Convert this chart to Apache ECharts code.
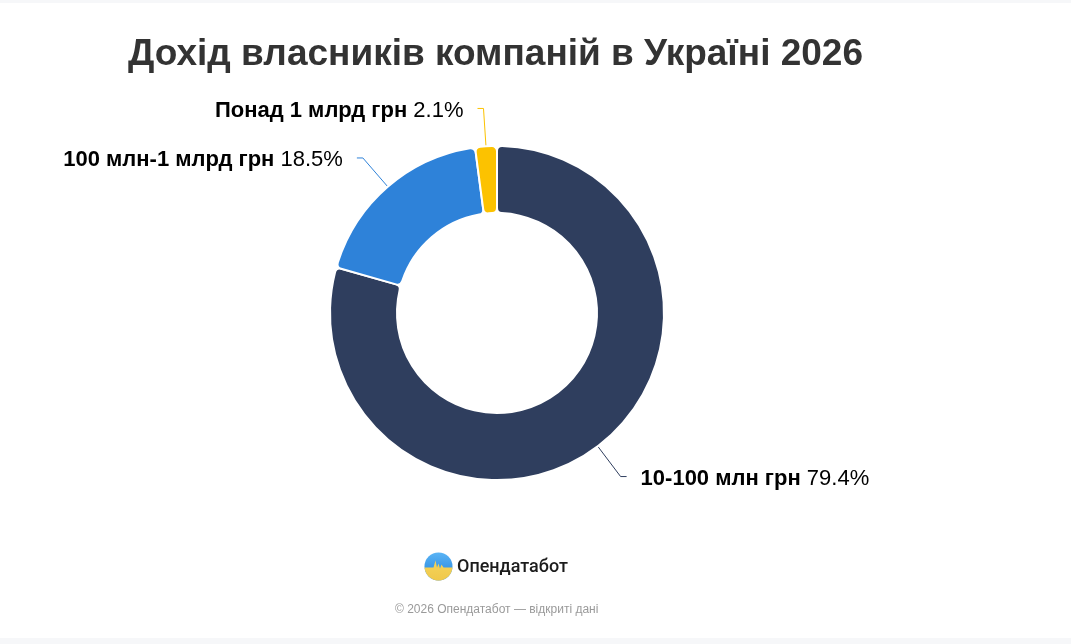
<!DOCTYPE html>
<html>
<head>
<meta charset="utf-8">
<script src="https://cdn.jsdelivr.net/npm/echarts@6/dist/echarts.min.js"></script>
<style>
html,body{margin:0;padding:0;background:#f6f7f9;}
#chart{width:1071px;height:644px;}
</style>
</head>
<body>
<div id="chart"></div>
<script>
const titleText = 'Дохід власників компаній в Україні 2026';
const categories = ['10-100 млн грн', '100 млн-1 млрд грн', 'Понад 1 млрд грн'];
const values = [79.4, 18.5, 2.1];
const colors = ['#2f3e5e', '#2e82d9', '#fcc200'];
const brandName = 'Опендатабот';
const footerText = '© 2026 Опендатабот — відкриті дані';

const chart = echarts.init(document.getElementById('chart'));

// logo yellow area (lower half of circle with heartbeat spike)
const cx = 438.5, cy = 566.5, r = 14;
const yellowPts = [];
for (let i = 0; i <= 24; i++) {
  const a = Math.PI * i / 24;
  yellowPts.push([cx + r * Math.cos(a), cy + r * Math.sin(a)]);
}
yellowPts.push([cx - r, cy + 1]);
yellowPts.push([cx - 5, cy + 1]);
yellowPts.push([cx - 3, cy - 6]);
yellowPts.push([cx - 1.5, cy + 1]);
yellowPts.push([cx, cy - 3]);
yellowPts.push([cx + 1.5, cy + 2]);
yellowPts.push([cx + 3, cy - 2]);
yellowPts.push([cx + 5, cy + 1]);
yellowPts.push([cx + r, cy + 1]);

chart.setOption({
  backgroundColor: '#f6f7f9',
  animation: false,
  title: {
    text: titleText,
    left: 123,
    top: 31,
    textStyle: {
      fontFamily: 'Liberation Sans, Arial, sans-serif',
      fontSize: 37,
      fontWeight: 'bold',
      color: '#333333'
    }
  },
  graphic: [
    { type: 'rect', z: -10, shape: { x: 0, y: 3, width: 1071, height: 635 }, style: { fill: '#ffffff' }, silent: true },
    { type: 'circle', z: 10, shape: { cx: cx, cy: cy, r: r },
      style: { fill: new echarts.graphic.LinearGradient(0, 0, 0, 1, [{ offset: 0, color: '#5ab4f5' }, { offset: 0.5, color: '#3d9ae8' }, { offset: 1, color: '#3d9ae8' }]) } },
    { type: 'polygon', z: 11, shape: { points: yellowPts },
      style: { fill: new echarts.graphic.LinearGradient(0, 0, 0, 1, [{ offset: 0, color: '#f5d45a' }, { offset: 1, color: '#f0c84a' }]) } },
    { type: 'text', z: 10, left: 457, top: 558,
      style: { text: brandName, fontFamily: 'Roboto, sans-serif', fontSize: 18, fontWeight: 500, fill: '#1c1c1c' } },
    { type: 'text', z: 10, left: 395, top: 604,
      style: { text: footerText, fontFamily: 'Liberation Sans, Arial, sans-serif', fontSize: 12, fill: '#9a9a9a' } }
  ],
  series: [{
    type: 'pie',
    center: [497, 313],
    radius: [100, 167],
    startAngle: 90,
    clockwise: true,
    itemStyle: { borderColor: '#ffffff', borderWidth: 2, borderRadius: 5 },
    label: {
      show: true,
      position: 'outside',
      distanceToLabelLine: 14,
      padding: [4, 0, 0, 0],
      formatter: function (p) { return '{b|' + p.name + '}{v| ' + p.value + '%}'; },
      rich: {
        b: { fontFamily: 'Liberation Sans, Arial, sans-serif', fontSize: 22, fontWeight: 'bold', color: '#000000' },
        v: { fontFamily: 'Liberation Sans, Arial, sans-serif', fontSize: 22, color: '#000000' }
      }
    },
    labelLine: { show: true, length: 38, length2: 6, lineStyle: { width: 1 } },
    data: categories.map((c, i) => ({ name: c, value: values[i], itemStyle: { color: colors[i] } }))
  }]
});
</script>
</body>
</html>
